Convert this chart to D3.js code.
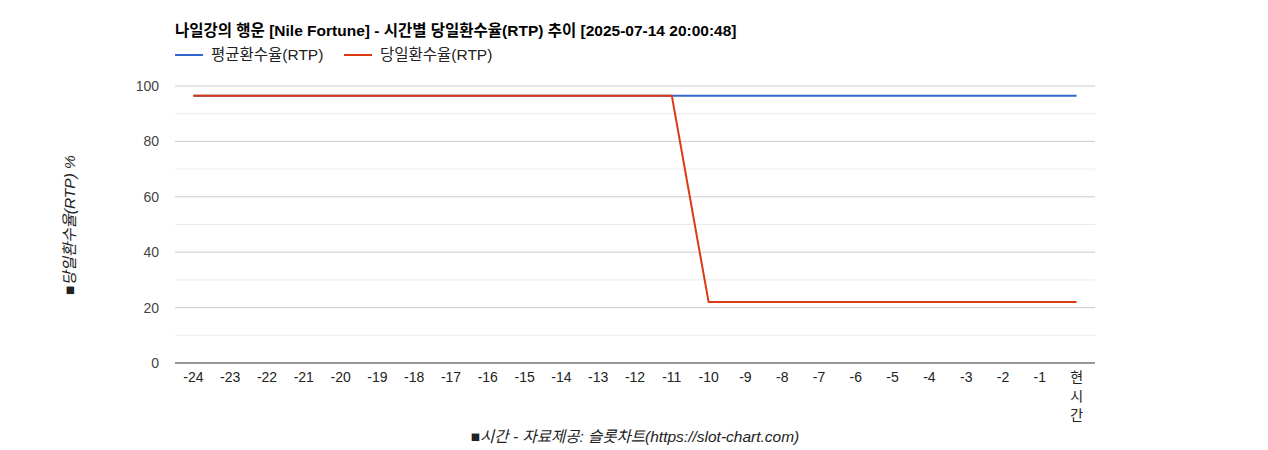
<!DOCTYPE html>
<html><head><meta charset="utf-8">
<script src="https://cdn.jsdelivr.net/npm/d3@7"></script>
<style>body{margin:0;background:#fff;font-family:Arial,"Liberation Sans","Noto Sans CJK KR",sans-serif}</style>
</head><body><div id="chart"></div>
<script>
var categories = ["-24","-23","-22","-21","-20","-19","-18","-17","-16","-15","-14","-13","-12","-11","-10","-9","-8","-7","-6","-5","-4","-3","-2","-1","현시간"];
var avgRtp = [96.5,96.5,96.5,96.5,96.5,96.5,96.5,96.5,96.5,96.5,96.5,96.5,96.5,96.5,96.5,96.5,96.5,96.5,96.5,96.5,96.5,96.5,96.5,96.5,96.5];
var dayRtp = [96.5,96.5,96.5,96.5,96.5,96.5,96.5,96.5,96.5,96.5,96.5,96.5,96.5,96.5,22,22,22,22,22,22,22,22,22,22,22];
var yTicks = [0,20,40,60,80,100];
var minorTicks = [10,30,50,70,90];

var W = 1268, H = 450, L = 175, R = 1095, T = 86, B = 363;
var svg = d3.select("#chart").append("svg").attr("width", W).attr("height", H);
var x = d3.scaleBand().domain(categories).range([L, R]);
var y = d3.scaleLinear().domain([0, 100]).range([B, T]);

svg.append("g").selectAll("line").data(minorTicks).enter().append("line")
  .attr("x1", L).attr("x2", R).attr("y1", d => y(d)).attr("y2", d => y(d)).attr("stroke", "#ebebeb");
svg.append("g").selectAll("line").data(yTicks.slice(1)).enter().append("line")
  .attr("x1", L).attr("x2", R).attr("y1", d => y(d)).attr("y2", d => y(d)).attr("stroke", "#cccccc");
svg.append("line").attr("x1", L).attr("x2", R).attr("y1", B).attr("y2", B).attr("stroke", "#333");

svg.append("g").selectAll("text").data(yTicks).enter().append("text")
  .attr("x", L - 16).attr("y", d => y(d) + 5).attr("text-anchor", "end")
  .attr("font-size", 14).attr("fill", "#444").text(d => d);

var xl = svg.append("g").selectAll("text").data(categories).enter().append("text")
  .attr("x", d => x(d) + x.bandwidth() / 2).attr("y", B + 19).attr("text-anchor", "middle")
  .attr("font-size", 14).attr("fill", "#222");
xl.each(function(d) {
  var t = d3.select(this);
  if (isNaN(+d)) {
    d.split("").forEach((c, i) => t.append("tspan").attr("x", x(d) + x.bandwidth() / 2).attr("dy", i ? 19 : 0).text(c));
  } else t.text(d);
});

var line = d3.line().x((d, i) => x(categories[i]) + x.bandwidth() / 2).y(d => y(d));
svg.append("path").datum(avgRtp).attr("d", line).attr("fill", "none").attr("stroke", "#3366cc").attr("stroke-width", 2);
svg.append("path").datum(dayRtp).attr("d", line).attr("fill", "none").attr("stroke", "#dc3912").attr("stroke-width", 2);

svg.append("text").attr("x", 175).attr("y", 36).attr("font-size", 15.5).attr("font-weight", "bold")
  .text("나일강의 행운 [Nile Fortune] - 시간별 당일환수율(RTP) 추이 [2025-07-14 20:00:48]");

var leg = [["평균환수율(RTP)", "#3366cc", 175], ["당일환수율(RTP)", "#dc3912", 344]];
leg.forEach(function(l) {
  svg.append("line").attr("x1", l[2]).attr("x2", l[2] + 28).attr("y1", 55).attr("y2", 55).attr("stroke", l[1]).attr("stroke-width", 2);
  svg.append("text").attr("x", l[2] + 36).attr("y", 60).attr("font-size", 15.5).attr("fill", "#222").text(l[0]);
});

svg.append("text").attr("transform", "translate(75,225) rotate(-90)").attr("text-anchor", "middle")
  .attr("font-size", 15.5).attr("font-style", "italic").attr("fill", "#222").text("■당일환수율(RTP) %");
svg.append("text").attr("x", 635).attr("y", 442).attr("text-anchor", "middle")
  .attr("font-size", 15.5).attr("font-style", "italic").attr("fill", "#222").text("■시간 - 자료제공: 슬롯차트(https://slot-chart.com)");
</script></body></html>
